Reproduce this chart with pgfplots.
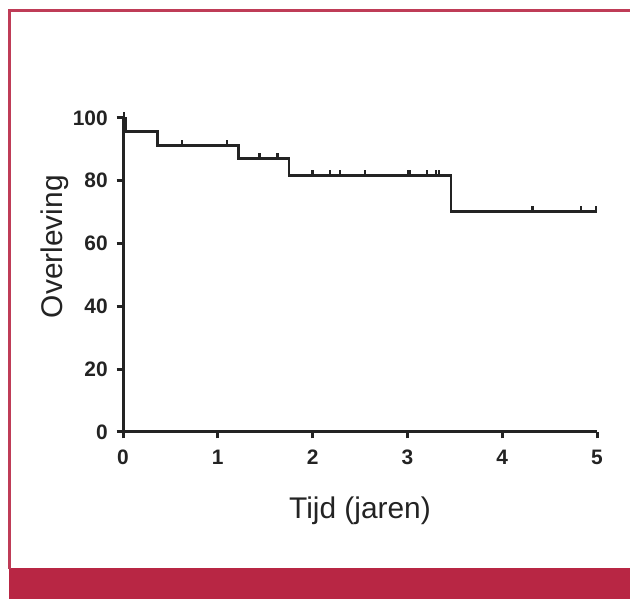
\documentclass[border=0pt]{standalone}
\usepackage{fontspec}
\setmainfont{Liberation Sans}
\usepackage{pgfplots}
\pgfplotsset{compat=1.18}
\definecolor{crimson}{RGB}{184,38,68}
\definecolor{ink}{RGB}{35,35,35}
\pgfdeclareplotmark{cens}{%
  \pgfpathmoveto{\pgfpoint{0pt}{0pt}}%
  \pgfpathlineto{\pgfpoint{0pt}{5.5bp}}%
  \pgfusepathqstroke}
\begin{document}
\begin{tikzpicture}[x=1bp,y=1bp]
\path[use as bounding box] (0,0) rectangle (630,599);
% frame
\fill[crimson] (8.5,0) rectangle (630,30.5);
\draw[crimson!90!white, line width=2.5bp] (9.5,30) -- (9.5,588.5) -- (631,588.5);
\begin{axis}[
  at={(123bp,167bp)}, anchor=south west,
  scale only axis, width=474bp, height=314bp,
  xmin=0, xmax=5, ymin=0, ymax=100,
  line width=3bp, draw=ink,
  axis lines=left,
  axis line style={-, line width=3bp, draw=ink},
  tick style={line width=3bp, draw=ink},
  tick align=outside, major tick length=6.5bp,
  xtick={0,1,2,3,4,5}, ytick={0,20,40,60,80,100},
  /pgf/number format/assume math mode=true,
  tick label style={font=\fontsize{21}{21}\selectfont\bfseries, color=ink},
  xticklabel style={yshift=-7bp},
  yticklabel style={xshift=-4bp},
  xlabel={Tijd (jaren)},
  ylabel={Overleving},
  label style={font=\fontsize{30}{30}\selectfont, color=ink},
  xlabel style={at={(axis description cs:0.5,-0.274)}, anchor=base},
  ylabel style={at={(axis description cs:-0.1266,0.59)}, anchor=base},
  clip=false,
]
\addplot[const plot mark left, line width=2.8bp, color=ink, mark=none] coordinates {
  (0,100) (0.03,95.7) (0.36,91.3) (1.22,87.0) (1.75,81.8) (3.46,70.1) (5.0,70.1)
};
\addplot[only marks, mark=cens, mark options={line width=2.3bp, color=ink}] coordinates {
  (0.01,100)
  (0.62,91.3) (1.10,91.3)
  (1.44,87.0) (1.63,87.0)
  (2.00,81.8) (2.18,81.8) (2.29,81.8) (2.55,81.8) (3.01,81.8) (3.03,81.8) (3.21,81.8) (3.30,81.8) (3.33,81.8)
  (4.32,70.1) (4.83,70.1) (4.99,70.1)
};
\end{axis}
\end{tikzpicture}
\end{document}
